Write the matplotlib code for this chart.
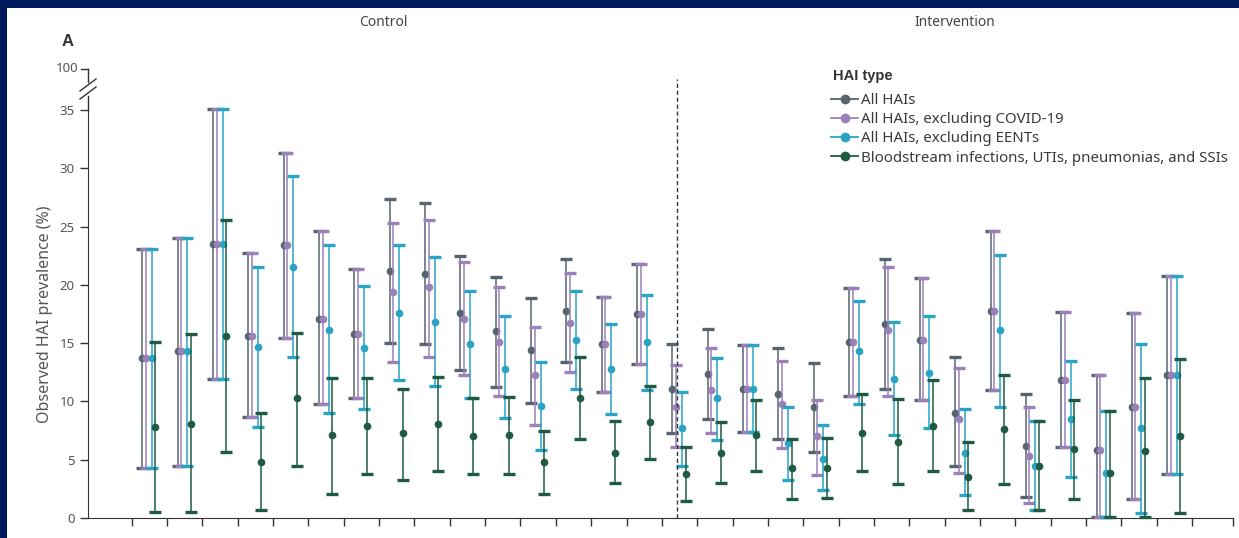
import numpy as np
import matplotlib
matplotlib.use("Agg")
import matplotlib.pyplot as plt
from matplotlib.lines import Line2D
from matplotlib.patches import Rectangle

plt.rcParams['font.family'] = ['Noto Sans', 'DejaVu Sans']

## data, 15 control wards then 15 intervention wards
series_names = ['All HAIs', 'All HAIs, excluding COVID-19', 'All HAIs, excluding EENTs',
                'Bloodstream infections, UTIs, pneumonias, and SSIs']
series_colors = ['#56646f', '#9c80b9', '#2aa3c4', '#1e5b42']

grey_pt = [13.7, 14.3, 23.5, 15.6, 23.4, 17.1, 15.8, 21.2, 20.9, 17.55, 16.0, 14.4, 17.8, 14.9, 17.5,
           11.1, 12.35, 11.1, 10.6, 9.55, 15.1, 16.6, 15.3, 9.0, 17.8, 6.2, 11.8, 5.8, 9.55, 12.3]
grey_lo = [4.3, 4.5, 11.9, 8.7, 15.4, 9.75, 10.3, 15.0, 14.9, 12.7, 11.2, 9.9, 13.35, 10.8, 13.2,
           7.3, 8.5, 7.4, 6.75, 5.7, 10.5, 11.1, 10.1, 4.5, 11.0, 1.8, 6.1, 0.1, 1.6, 3.75]
grey_hi = [23.1, 24.0, 35.1, 22.7, 31.3, 24.6, 21.4, 27.4, 27.0, 22.5, 20.7, 18.9, 22.2, 19.0, 21.75,
           14.9, 16.2, 14.85, 14.55, 13.3, 19.7, 22.2, 20.6, 13.8, 24.6, 10.6, 17.7, 12.3, 17.55, 20.75]

purple_pt = [13.7, 14.3, 23.5, 15.6, 23.4, 17.1, 15.8, 19.4, 19.8, 17.1, 15.1, 12.3, 16.7, 14.9, 17.5,
             9.55, 11.0, 11.1, 9.8, 7.0, 15.1, 16.1, 15.3, 8.5, 17.8, 5.35, 11.8, 5.8, 9.55, 12.3]
purple_lo = [4.3, 4.5, 11.9, 8.7, 15.4, 9.75, 10.3, 13.4, 13.8, 12.3, 10.5, 8.0, 12.5, 10.8, 13.2,
             6.1, 7.3, 7.4, 6.0, 3.7, 10.5, 10.5, 10.1, 3.9, 11.0, 1.26, 6.1, 0.1, 1.6, 3.75]
purple_hi = [23.1, 24.0, 35.1, 22.7, 31.3, 24.6, 21.4, 25.3, 25.6, 22.0, 19.8, 16.4, 21.0, 19.0, 21.75,
             13.1, 14.55, 14.85, 13.5, 10.1, 19.7, 21.55, 20.6, 12.9, 24.6, 9.5, 17.7, 12.3, 17.55, 20.75]

cyan_pt = [13.7, 14.3, 23.5, 14.7, 21.5, 16.1, 14.6, 17.55, 16.8, 14.9, 12.8, 9.6, 15.3, 12.8, 15.1,
           7.7, 10.3, 11.1, 6.4, 5.1, 14.3, 11.9, 12.4, 5.6, 16.1, 4.5, 8.5, 3.9, 7.7, 12.3]
cyan_lo = [4.3, 4.5, 11.9, 7.8, 13.8, 9.0, 9.35, 11.8, 11.3, 10.3, 8.55, 5.8, 11.1, 8.9, 11.0,
           4.5, 6.7, 7.4, 3.3, 2.4, 9.75, 7.1, 7.7, 2.0, 9.5, 0.7, 3.5, 0.1, 0.4, 3.75]
cyan_hi = [23.1, 24.0, 35.1, 21.55, 29.3, 23.4, 19.9, 23.4, 22.4, 19.5, 17.3, 13.35, 19.5, 16.6, 19.1,
           10.8, 13.7, 14.85, 9.5, 8.0, 18.6, 16.8, 17.3, 9.35, 22.6, 8.3, 13.5, 9.2, 14.9, 20.75]

green_pt = [7.8, 8.1, 15.6, 4.8, 10.3, 7.1, 7.9, 7.3, 8.1, 7.0, 7.1, 4.8, 10.3, 5.6, 8.2,
            3.8, 5.6, 7.1, 4.25, 4.3, 7.3, 6.5, 7.9, 3.5, 7.6, 4.5, 5.9, 3.9, 5.75, 7.0]
green_lo = [0.5, 0.55, 5.7, 0.7, 4.5, 2.1, 3.8, 3.3, 4.0, 3.8, 3.8, 2.1, 6.75, 3.0, 5.1,
            1.5, 3.0, 4.0, 1.6, 1.7, 4.0, 2.9, 4.0, 0.7, 2.9, 0.7, 1.6, 0.1, 0.1, 0.4]
green_hi = [15.1, 15.75, 25.6, 9.0, 15.9, 12.0, 12.0, 11.1, 12.1, 10.3, 10.4, 7.5, 13.8, 8.3, 11.3,
            6.1, 8.2, 10.1, 6.75, 6.9, 10.6, 10.2, 11.8, 6.5, 12.3, 8.3, 10.1, 9.2, 12.0, 13.6]

y_ticks = [0, 5, 10, 15, 20, 25, 30, 35]

points = [grey_pt, purple_pt, cyan_pt, green_pt]
lows = [grey_lo, purple_lo, cyan_lo, green_lo]
highs = [grey_hi, purple_hi, cyan_hi, green_hi]

n = len(grey_pt)
x = np.arange(n)
offsets = [-0.2, -0.1, 0.07, 0.17]

fig = plt.figure(figsize=(12.39, 5.38), dpi=100)
fig.patch.set_facecolor('#001a5e')
fig.patches.append(Rectangle((7 / 1239, 0), 1 - 7 / 1239, 1 - 8 / 538, transform=fig.transFigure,
                             facecolor='white', edgecolor='none', zorder=-10))

ax = fig.add_axes([88 / 1239, 20 / 538, (1233 - 88) / 1239, 408 / 538])
ax.set_facecolor('none')

for k in range(4):
    pt = np.array(points[k])
    lo = np.array(lows[k])
    hi = np.array(highs[k])
    ax.errorbar(x + offsets[k], pt, yerr=[pt - lo, hi - pt], fmt='o', color=series_colors[k],
                ecolor=series_colors[k], elinewidth=1.1, capsize=4.5, capthick=2.4,
                markersize=4.5, zorder=3 + k, clip_on=False)

ax.set_ylim(0, 35)
ax.set_xlim(-1.737, 30.66)
ax.set_yticks(y_ticks)
ax.set_xticks(list(np.arange(n + 1) - 0.5) + [30.66])
ax.set_xticklabels([])
for s in ['top', 'right']:
    ax.spines[s].set_visible(False)
ax.spines['left'].set_color('#333333')
ax.spines['bottom'].set_color('#333333')
ax.tick_params(axis='both', direction='out', length=6, width=1, color='#333333',
               labelcolor='#555555', labelsize=9.5)
ax.set_ylabel('Observed HAI prevalence (%)', fontsize=11.5, color='#555555', labelpad=5)

# broken y axis up to 100
tr = ax.transAxes
def fy(py):
    return (518 - py) / 408
ax.plot([0, 0], [1, fy(96)], color='#333333', lw=1, transform=tr, clip_on=False)
ax.plot([0, 0], [fy(82), fy(69)], color='#333333', lw=1, transform=tr, clip_on=False)
ax.plot([0, -7 / 1145], [fy(69), fy(69)], color='#333333', lw=1, transform=tr, clip_on=False)
for py in [85, 93]:
    ax.plot([-8 / 1145, 8 / 1145], [fy(py + 6), fy(py - 6)], color='#333333', lw=1,
            transform=tr, clip_on=False)
ax.text(-10 / 1145, fy(69), '100', ha='right', va='center', fontsize=9.5, color='#555555',
        transform=tr)

# control / intervention divider
ax.plot([14.93, 14.93], [0, 37.7], color='#333333', lw=1, ls=(0, (3, 2)), clip_on=False, zorder=10)

fig.text(62 / 1239, 1 - 42 / 538, 'A', fontsize=12, fontweight='bold', color='#333333',
         family=['Liberation Sans', 'DejaVu Sans'], ha='left', va='center')
fig.text(383 / 1239, 1 - 22 / 538, 'Control', fontsize=10, color='#444444', ha='center', va='center')
fig.text(955 / 1239, 1 - 22 / 538, 'Intervention', fontsize=10, color='#444444', ha='center', va='center')
fig.text(833 / 1239, 1 - 76 / 538, 'HAI type', fontsize=10.5, fontweight='bold', color='#333333',
         family=['Liberation Sans', 'DejaVu Sans'], ha='left', va='center')

handles = [Line2D([0], [0], color=c, marker='o', markersize=6, lw=1.3) for c in series_colors]
leg = ax.legend(handles, series_names, loc='upper left', bbox_to_anchor=(831 / 1239, 1 - 93 / 538),
                bbox_transform=fig.transFigure, frameon=False, fontsize=10.8,
                handlelength=1.8, handletextpad=0.2, labelspacing=0.28, borderpad=0,
                borderaxespad=0)
for t in leg.get_texts():
    t.set_color('#3a3a3a')

fig.savefig('out.png', dpi=100, facecolor=fig.get_facecolor())
